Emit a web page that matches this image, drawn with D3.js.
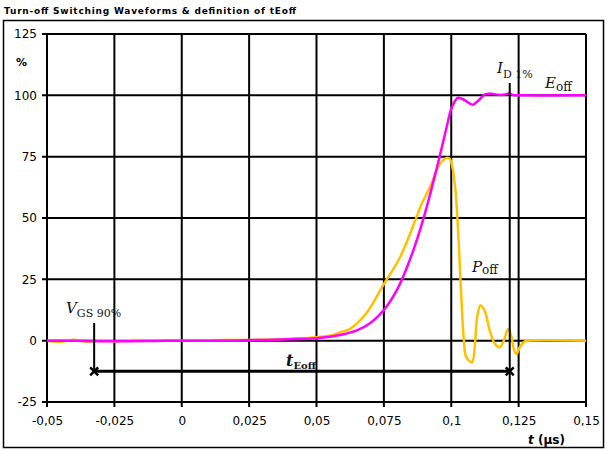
<!DOCTYPE html>
<html><head><meta charset="utf-8">
<script src="https://cdn.jsdelivr.net/npm/d3@7"></script>
<style>body{margin:0;background:#fff}svg{display:block}</style>
</head><body>
<script>
const xTicks = [-0.05,-0.025,0,0.025,0.05,0.075,0.1,0.125,0.15];
const xTickLabels = ["-0,05","-0,025","0","0,025","0,05","0,075","0,1","0,125","0,15"];
const yTicks = [-25,0,25,50,75,100,125];
const yTickLabels = ["-25","0","25","50","75","100","125"];

// Eoff (magenta)
const eoffT = [-0.05,-0.04,-0.03,-0.02,-0.01,0,0.01,0.02,0.03,0.04,0.05,0.055,0.06,0.065,0.07,0.075,0.08,0.085,0.09,0.095,0.0985,0.1,0.1025,0.105,0.108,0.11,0.1125,0.115,0.1175,0.12,0.1215,0.123,0.125,0.15];
const eoffV = [0,0,-0.2,-0.2,-0.1,0,0,0.1,0.3,0.6,1.0,1.6,2.6,4.2,7.2,12.5,21,34,51,72,88,94.5,99,98,96.2,97.8,100.4,100.6,100.2,100.3,100.8,100.1,100,100];

// Poff (yellow)
const poffT = [-0.05,-0.045,-0.04,-0.035,-0.03,-0.025,-0.02,-0.01,0,0.01,0.025,0.04,0.05,0.0562,0.0587,0.0624,0.0687,0.0747,0.081,0.0871,0.089,0.0921,0.0958,0.0983,0.0995,0.1013,0.1026,0.1038,0.1047,0.1056,0.1077,0.1087,0.1096,0.1108,0.1124,0.1143,0.1162,0.118,0.1195,0.1211,0.1224,0.1232,0.1242,0.1254,0.1273,0.1285,0.15];
const poffV = [0,-0.4,0.4,-0.4,0.3,-0.3,0.2,0.1,0,0.2,0.3,0.8,1.4,2.3,3.4,4.8,11.5,22.5,34,50.3,55.7,62.5,72,74.5,74.1,63.9,43.5,16.3,0,-6.8,-8.8,-2.7,9.5,14.3,12.2,4.1,-1.3,-2.7,0,4.8,1.4,-3.4,-5.4,-2.7,-0.3,0,0];

const tVgs = -0.0325, tId = 0.1217, yArrow = -12.5;

const W = 607, H = 450;
const svg = d3.select("body").append("svg").attr("width", W).attr("height", H);

// outer frame
svg.append("rect").attr("x",3.5).attr("y",20.5).attr("width",600).attr("height",427)
  .attr("fill","none").attr("stroke","#000").attr("stroke-width",1.5);

svg.append("text").attr("x",4).attr("y",14).attr("font-family","DejaVu Sans")
  .attr("font-weight","bold").attr("font-size",9).attr("textLength",292)
  .text("Turn-off Switching Waveforms & definition of tEoff");

const x = d3.scaleLinear().domain([-0.05,0.15]).range([47,586]);
const y = d3.scaleLinear().domain([-25,125]).range([402,34]);

// grid
const g = svg.append("g");
g.selectAll(".vg").data(xTicks).enter().append("line")
  .attr("x1",d=>x(d)).attr("x2",d=>x(d)).attr("y1",y(125)).attr("y2",y(-25)+5)
  .attr("stroke","#000").attr("stroke-width",2);
g.selectAll(".hg").data(yTicks).enter().append("line")
  .attr("y1",d=>y(d)).attr("y2",d=>y(d)).attr("x1",x(-0.05)-5).attr("x2",x(0.15))
  .attr("stroke","#000").attr("stroke-width",2);

// axes labels
const xa = svg.append("g").attr("transform",`translate(0,${y(-25)})`)
  .call(d3.axisBottom(x).tickValues(xTicks).tickSize(0).tickPadding(14).tickFormat((d,i)=>xTickLabels[i]));
xa.select(".domain").remove();
xa.selectAll("text").attr("font-family","DejaVu Sans").attr("font-size",12).attr("fill","#000");
const ya = svg.append("g").attr("transform",`translate(${x(-0.05)},0)`)
  .call(d3.axisLeft(y).tickValues(yTicks).tickSize(0).tickPadding(10).tickFormat((d,i)=>yTickLabels[i]));
ya.select(".domain").remove();
ya.selectAll("text").attr("font-family","DejaVu Sans").attr("font-size",12).attr("fill","#000");

svg.append("text").attr("x",16).attr("y",66).attr("font-family","DejaVu Sans")
  .attr("font-weight","bold").attr("font-size",11).text("%");
const tl = svg.append("text").attr("x",528).attr("y",444).attr("font-family","DejaVu Sans")
  .attr("font-weight","bold").attr("font-size",12);
tl.append("tspan").attr("font-style","italic").text("t");
tl.append("tspan").text(" (µs)");

// curves
const line = d3.line().x(d=>x(d[0])).y(d=>y(d[1])).curve(d3.curveCatmullRom.alpha(0.5));
svg.append("path").datum(poffT.map((t,i)=>[t,poffV[i]])).attr("d",line)
  .attr("fill","none").attr("stroke","#FFC000").attr("stroke-width",2.5);
svg.append("path").datum(eoffT.map((t,i)=>[t,eoffV[i]])).attr("d",line)
  .attr("fill","none").attr("stroke","#FF00FF").attr("stroke-width",2.5);

// markers
svg.append("line").attr("x1",x(tVgs)).attr("x2",x(tVgs)).attr("y1",323).attr("y2",y(yArrow))
  .attr("stroke","#000").attr("stroke-width",2);
svg.append("line").attr("x1",x(tId)).attr("x2",x(tId)).attr("y1",83).attr("y2",y(-25))
  .attr("stroke","#000").attr("stroke-width",2);
svg.append("line").attr("x1",x(tVgs)).attr("x2",x(tId)).attr("y1",y(yArrow)).attr("y2",y(yArrow))
  .attr("stroke","#000").attr("stroke-width",3);
[tVgs,tId].forEach(t=>{
  const cx=x(t), cy=y(yArrow), s=4;
  svg.append("path").attr("d",`M${cx-s},${cy-s}L${cx+s},${cy+s}M${cx-s},${cy+s}L${cx+s},${cy-s}`)
    .attr("stroke","#000").attr("stroke-width",2.5);
});

// annotations
function ann(xp, yp, main, sub, opts={}) {
  const t = svg.append("text").attr("x",xp).attr("y",yp).attr("font-family","DejaVu Serif").attr("fill","#111");
  t.append("tspan").attr("font-style","italic").attr("font-size",opts.mainSize||15)
    .attr("font-weight",opts.bold?"bold":"normal").text(main);
  t.append("tspan").attr("font-size",opts.subSize||10).attr("dy",opts.dy||4)
    .attr("font-weight",opts.bold?"bold":"normal").text(sub);
}
ann(66,313,"V","GS 90%",{subSize:11,dy:4});
ann(497,73,"I","D 1%",{subSize:11,dy:5});
ann(545,88,"E","off",{subSize:12,dy:3});
ann(472,272,"P","off",{subSize:12,dy:2});
ann(286,366,"t","Eoff",{bold:true,mainSize:16,subSize:10,dy:3});
</script>
</body></html>
